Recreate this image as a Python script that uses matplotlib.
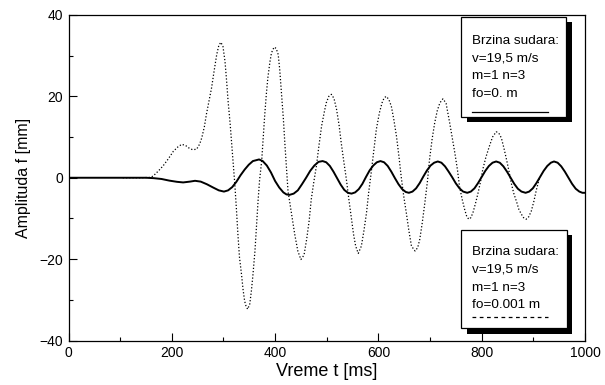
import matplotlib
matplotlib.use("Agg")
import matplotlib.pyplot as plt
from matplotlib.patches import Rectangle
from matplotlib.lines import Line2D

plt.rcParams['font.family'] = ['Liberation Sans', 'DejaVu Sans']

# Solid series: fo = 0 m
t_solid = [0, 150, 165, 180, 195, 210, 222, 235, 245, 256, 268, 280, 291,
           301, 309, 317, 325, 333, 341, 349, 357, 369,
           376, 384, 392, 400, 408, 416, 422, 428,
           436, 444, 452, 460, 468, 476, 484, 492,
           499, 506, 513, 520, 527, 534, 541, 548,
           555, 562, 569, 576, 583, 590, 597, 604,
           611, 618, 625, 632, 639, 646, 653, 659,
           666, 673, 680, 687, 694, 701, 708, 715,
           722, 729, 736, 743, 750, 757, 764, 772,
           779, 786, 793, 800, 807, 814, 821, 828,
           835, 842, 849, 856, 863, 870, 877, 885,
           892, 899, 906, 913, 920, 927, 934, 940,
           947, 954, 961, 968, 975, 982, 989, 995, 1000]
f_solid = [0, 0, -0.1, -0.3, -0.7, -1.0, -1.15, -0.95, -0.75, -0.95, -1.6, -2.4, -3.1,
           -3.4, -3.1, -2.3, -1.0, 0.6, 2.0, 3.2, 4.1, 4.5,
           4.1, 3.0, 1.3, -0.8, -2.4, -3.6, -4.1, -4.2,
           -3.9, -3.1, -1.6, 0.0, 1.7, 3.0, 3.9, 4.1,
           3.8, 2.9, 1.5, -0.1, -1.7, -3.0, -3.7, -3.9,
           -3.6, -2.8, -1.5, 0.2, 1.8, 3.0, 3.8, 4.1,
           3.8, 2.9, 1.5, -0.1, -1.6, -2.8, -3.5, -3.7,
           -3.4, -2.6, -1.3, 0.3, 1.8, 3.0, 3.7, 4.0,
           3.7, 2.8, 1.5, 0.1, -1.4, -2.6, -3.4, -3.7,
           -3.4, -2.6, -1.3, 0.2, 1.7, 2.9, 3.7, 4.0,
           3.7, 2.8, 1.5, 0.0, -1.5, -2.7, -3.4, -3.7,
           -3.4, -2.6, -1.3, 0.2, 1.7, 2.9, 3.7, 4.0,
           3.7, 2.8, 1.5, 0.0, -1.5, -2.7, -3.4, -3.7, -3.7]

# Dotted series: fo = 0.001 m
t_dot = [105, 120, 140, 160, 167, 175, 183, 193, 203, 212, 219, 226, 232, 240, 248,
         254, 258, 263, 267, 272, 277, 282, 287, 291, 295, 299, 303, 306, 309, 313,
         316, 319, 322, 325, 328, 331, 335, 338, 341, 344, 347, 351, 354, 357, 361,
         364, 367, 370, 374, 377, 380, 383, 386, 390, 393, 398, 402, 406, 409, 412,
         416, 419, 425, 432, 438, 444, 450, 456, 461, 466, 470, 475, 480, 485, 490,
         495, 499, 504, 509, 514, 519, 524, 528, 533, 538, 543, 548, 552, 556, 561,
         567, 572, 577, 581, 586, 591, 596, 602, 607, 611, 615, 620, 625, 630, 635,
         640, 644, 649, 654, 659, 664, 671, 676, 680, 685, 690, 695, 699, 704, 709,
         714, 719, 725, 731, 738, 743, 748, 753, 757, 762, 767, 771, 775, 779, 783,
         788, 793, 798, 802, 808, 815, 821, 828, 833, 838, 843, 848, 853, 857, 862,
         868, 872, 877, 881, 886, 891, 896, 901, 906, 912]
f_dot = [0, 0, 0, 0.1, 0.8, 1.8, 2.9, 4.6, 6.5, 7.6, 8.2, 8.0, 7.4, 6.9, 7.0,
         8.3, 9.8, 12.5, 15.6, 18.8, 22.1, 26.3, 30.3, 32.5, 33.3, 32.3, 28.6, 24.0, 18.8, 13.2,
         8.2, 3.5, -1.6, -7.5, -13.9, -19.5, -23.8, -27.5, -30.3, -31.7, -32.3, -31.0, -27.9, -24.0, -18.0,
         -12.0, -5.7, -0.5, 4.1, 10.0, 15.6, 20.5, 24.6, 28.5, 30.7, 32.1, 31.8, 30.3, 26.5, 21.3,
         14.5, 8.2, -3.3, -9.0, -13.9, -18.0, -20.1, -19.0, -15.2, -10.5, -5.3, -1.0, 2.9, 8.0, 12.7,
         16.0, 18.4, 20.0, 20.5, 19.5, 16.8, 12.8, 8.6, 4.0, -0.4, -5.5, -10.2, -14.0, -16.8, -18.6,
         -16.8, -13.0, -8.6, -3.8, 1.2, 6.5, 11.9, 16.0, 18.4, 19.6, 20.0, 19.3, 17.6, 14.2, 10.2,
         5.0, 0.4, -4.5, -8.6, -13.0, -16.8, -18.0, -17.2, -15.2, -11.0, -6.1, -0.8, 4.5, 9.5, 13.5,
         16.5, 18.4, 19.4, 18.3, 13.5, 9.8, 6.1, 2.0, -2.1, -5.2, -7.8, -9.5, -10.2, -9.8, -8.6,
         -6.3, -3.7, -0.8, 2.0, 5.0, 7.8, 10.0, 11.3, 11.0, 9.8, 7.3, 4.5, 1.5, -1.2, -3.8,
         -6.1, -7.8, -9.0, -9.8, -10.2, -9.6, -8.2, -5.8, -2.9, 0.0]

legend_lines_solid = ["Brzina sudara:", "v=19,5 m/s", "m=1 n=3", "fo=0. m"]
legend_lines_dot = ["Brzina sudara:", "v=19,5 m/s", "m=1 n=3", "fo=0.001 m"]

W, H = 605, 385
fig = plt.figure(figsize=(W / 100, H / 100), dpi=100)
ax = fig.add_axes([68.5 / W, (H - 340.5) / H, (585 - 68.5) / W, (340.5 - 15) / H])

ax.plot(t_solid, f_solid, color='black', lw=1.4, solid_joinstyle='round', zorder=3)
ax.plot(t_dot, f_dot, color='black', lw=0.9, linestyle=(0, (1.0, 1.6)), zorder=3)

ax.set_xlim(0, 1000)
ax.set_ylim(-40, 40)
ax.set_xticks([0, 200, 400, 600, 800, 1000])
ax.set_xticks([100, 300, 500, 700, 900], minor=True)
ax.set_yticks([-40, -20, 0, 20, 40])
ax.set_yticks([-30, -10, 10, 30], minor=True)
ax.tick_params(which='both', direction='in', top=False, right=False,
               labelsize=10, width=0.8, color='black')
ax.tick_params(which='major', length=5.5, pad=4)
ax.tick_params(which='minor', length=3.2)
for s in ax.spines.values():
    s.set_linewidth(0.9)
ax.set_xlabel("Vreme t [ms]", fontsize=13, labelpad=2)
ax.set_ylabel("Amplituda f [mm]", fontsize=11.5, labelpad=6)


def px2fig(x, y):
    return x / W, 1 - y / H


def legend_box(x0, y0, x1, y1, lines, text_y, sample_y, style):
    sh = 5.5
    fx, fy = px2fig(x0 + sh, y1 + sh)
    fig.add_artist(Rectangle((fx, fy), (x1 - x0) / W, (y1 - y0) / H,
                             transform=fig.transFigure, facecolor='black',
                             edgecolor='black', lw=0, zorder=5))
    fx, fy = px2fig(x0, y1)
    fig.add_artist(Rectangle((fx, fy), (x1 - x0) / W, (y1 - y0) / H,
                             transform=fig.transFigure, facecolor='white',
                             edgecolor='black', lw=0.9, zorder=6))
    for i, s in enumerate(lines):
        tx, ty = px2fig(x0 + 10.5, text_y + i * 17.8)
        fig.text(tx, ty, s, fontsize=9.7, va='center', ha='left', zorder=7)
    lx0, ly = px2fig(x0 + 10.5, sample_y)
    lx1, _ = px2fig(x0 + 87, sample_y)
    fig.add_artist(Line2D([lx0, lx1], [ly, ly], transform=fig.transFigure,
                          color='black', lw=0.9, linestyle=style, zorder=7))


legend_box(461, 16.7, 566, 116.7, legend_lines_solid, 40.7, 111.7, '-')
legend_box(461, 229.5, 566.5, 328.3, legend_lines_dot, 252.0, 316.7, (0, (3.0, 2.8)))

fig.savefig("out.png", dpi=100)
